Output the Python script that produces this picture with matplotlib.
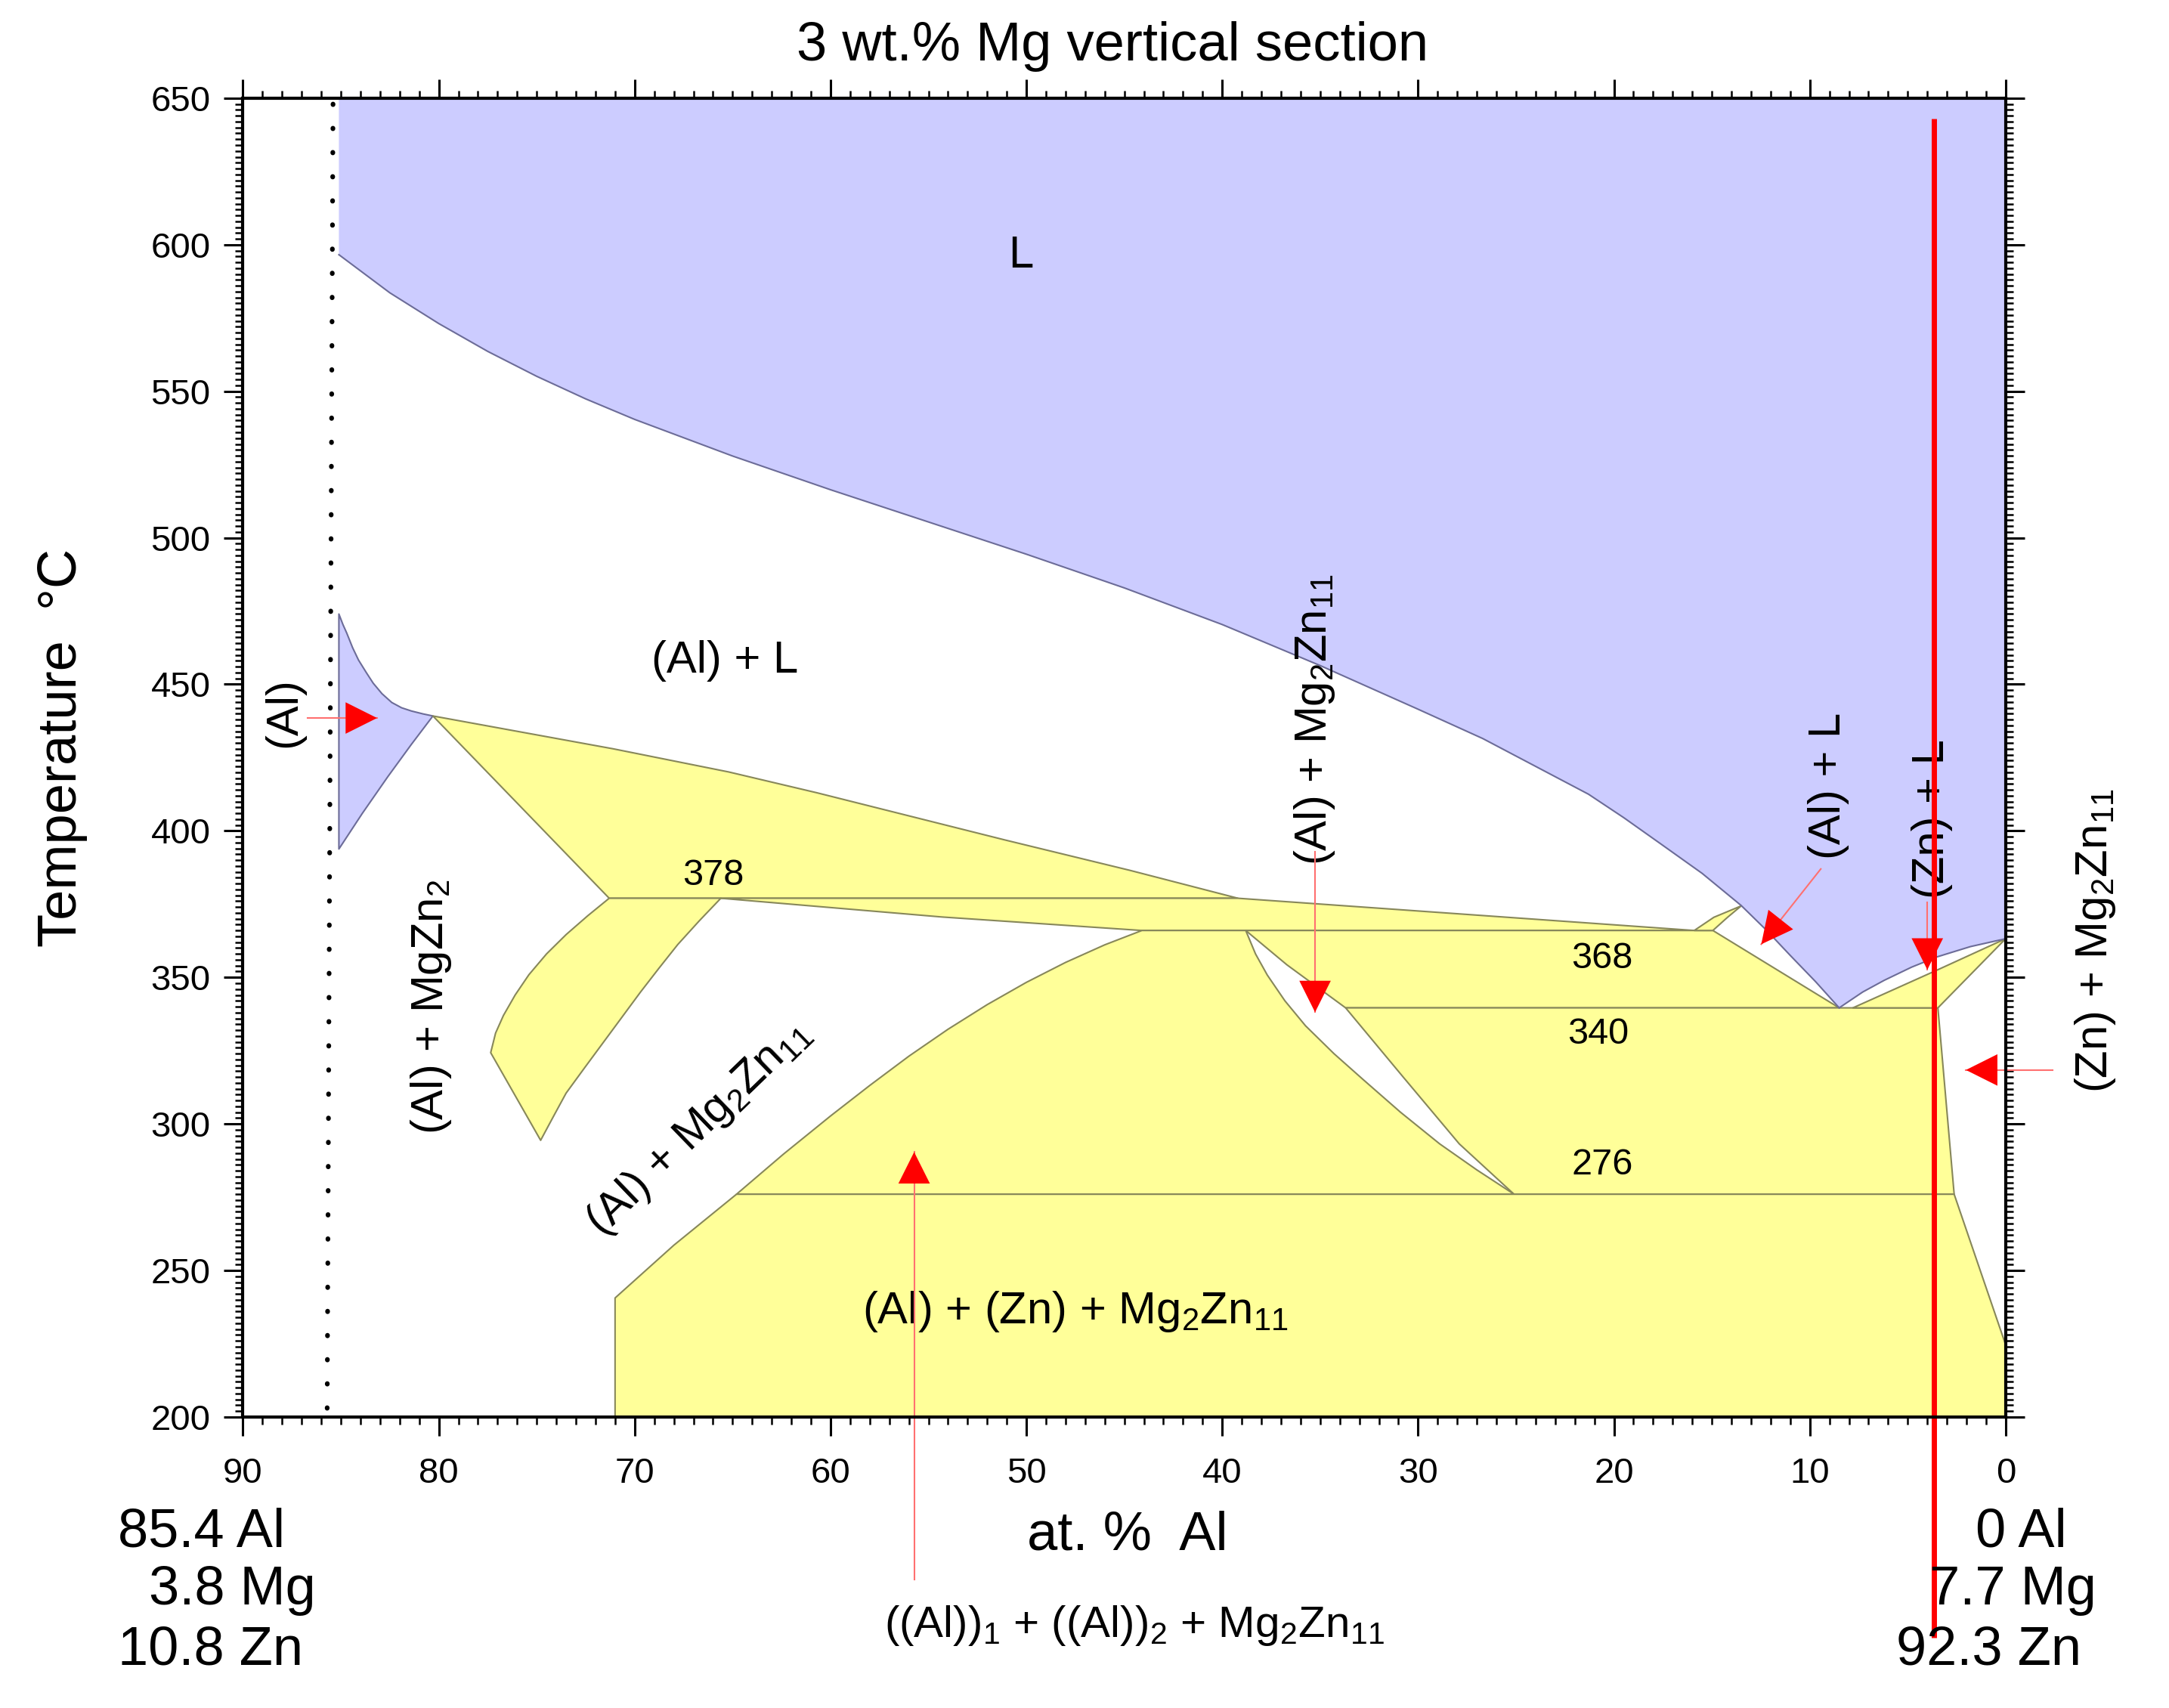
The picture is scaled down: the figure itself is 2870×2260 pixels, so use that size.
# 3 wt.% Mg vertical section of the Al-Mg-Zn system.

import numpy as np
from matplotlib import pyplot as plt
from matplotlib.ticker import MultipleLocator

plt.rcParams["font.family"] = ["Liberation Sans", "DejaVu Sans"]
plt.rcParams["mathtext.fontset"] = "custom"
plt.rcParams["mathtext.rm"] = "Liberation Sans"
plt.rcParams["mathtext.default"] = "regular"
plt.rcParams["lines.scale_dashes"] = False

BLUE = "#ccccff"
YELLOW = "#ffff99"
BLUE_EDGE = "#6c6c98"
YEL_EDGE = "#87875a"

# invariant temperatures as drawn (label text, degC)
iso_labels = ["378", "368", "340", "276"]
t378, t368, t340, t276 = 377.0, 366.0, 339.6, 276.0

# liquidus, Al-rich branch (at.% Al, degC)
liq_al_x = [85.1, 82.5, 80.0, 77.5, 75.0, 72.5, 70.0, 65.0, 60.0, 55.0, 50.0, 45.0, 40.0, 35.0,
            30.0, 26.7, 24.0, 21.3, 19.5, 17.6, 15.5, 13.5, 12.2, 11.0, 9.7, 8.5]
liq_al_t = [596.6, 583.6, 573.1, 563.6, 555.1, 547.4, 540.4, 527.9, 516.4, 505.4, 494.4, 482.9, 470.4, 456.4,
            441.5, 431.5, 422.0, 412.5, 404.5, 395.5, 385.5, 374.5, 366.0, 357.5, 348.5, 339.6]
# liquidus, Zn-rich branch
liq_zn_x = [8.5, 7.3, 6.2, 4.8, 3.5, 1.8, 0.0]
liq_zn_t = [339.6, 345.0, 349.0, 353.5, 357.0, 360.5, 363.2]

# (Al) single phase field
al_up_x = [85.1, 84.9, 84.7, 84.4, 84.1, 83.7, 83.35, 82.9, 82.4, 81.9, 81.4, 80.8, 80.3]
al_up_t = [474.0, 470.5, 467.5, 462.5, 458.3, 454.0, 450.4, 446.8, 443.8, 442.0, 440.9, 439.9, 439.2]
al_lo_x = [85.1, 83.9, 82.6, 81.4, 80.3]
al_lo_t = [393.8, 406.0, 418.5, 429.5, 439.2]

# (Al) + L + MgZn2 field, upper edge
a_up_x = [80.3, 71.1, 65.2, 60.7, 51.1, 44.7, 39.2]
a_up_t = [439.2, 428.0, 420.1, 413.0, 396.9, 386.5, t378]
a_corner_x = 71.3

# thin band between 378 and 368
band_top_x = [39.2, 26.7, 15.9]
band_top_t = [t378, 371.1, t368]
band_lo_x = [65.6, 54.3, 44.1]
band_lo_t = [t378, 370.6, t368]

# band below the 378 line
g_l_x = [71.3, 72.4, 73.5, 74.5, 75.4, 76.1, 76.7, 77.1, 77.35]
g_l_t = [t378, 371.0, 364.6, 358.0, 350.9, 344.0, 337.0, 331.0, 324.3]
g_r_x = [65.6, 66.7, 67.8, 68.75, 69.7, 70.65, 71.6, 72.55, 73.5, 74.15, 74.8]
g_r_t = [t378, 369.3, 361.2, 353.2, 345.0, 336.4, 327.8, 319.2, 310.5, 302.5, 294.4]

# left boundary of the (Al) + (Zn) + Mg2Zn11 field
e_up_x = [44.1, 46.0, 48.0, 50.0, 52.0, 54.0, 56.0, 58.0, 60.0, 62.4, 64.8]
e_up_t = [t368, 361.1, 355.1, 348.3, 340.7, 332.3, 323.1, 313.1, 302.7, 289.7, t276]
e_lo_x = [64.8, 68.0, 71.0]
e_lo_t = [t276, 258.6, 240.6]
e_foot_x = 71.0

# lens
lens_l_x = [38.8, 38.3, 37.7, 36.8, 35.75, 34.3, 32.8, 30.9, 28.9, 27.0, 25.1]
lens_l_t = [t368, 358.0, 350.8, 342.0, 333.5, 324.0, 315.1, 304.0, 293.2, 284.3, t276]
lens_r_x = [38.8, 36.7, 33.7, 30.8, 27.9, 25.1]
lens_r_t = [t368, 354.3, t340, 316.3, 293.2, t276]

# Zn-rich side
end368_x = 14.95
eut_x = 8.5
zn_solvus_x = [3.46, 2.63, 0.0]
zn_solvus_t = [t340, t276, 224.6]
wedge_x = [7.8, 3.5, 0.0, 3.46]
wedge_t = [t340, 352.5, 363.2, t340]
sliver_x = [15.9, 14.9, 13.5, 14.2, 14.95]
sliver_t = [t368, 370.5, 374.4, 370.5, t368]

# dotted composition line and red marker line
dot_x = [85.4, 85.7]
dot_t = [648, 202]
red_x = [3.65, 3.65]
red_t = [643, 124.7]

# arrows: (tail, tip)
arrows = [
    ((86.7, 438.5), (83.15, 438.5)),
    ((35.26, 392.9), (35.26, 338.1)),
    ((9.44, 387.0), (12.48, 361.3)),
    ((4.0, 375.7), (4.0, 352.6)),
    ((-2.41, 318.4), (2.03, 318.4)),
    ((55.73, 144.6), (55.73, 290.4)),
]

# region labels: text, at.% Al, degC, rotation, size
labels = [
    ("L", 50.3, 596.2, 0, 43),
    ("(Al) + L", 65.4, 457.9, 0, 43),
    ("(Al)", 87.9, 440.4, 90, 43),
    ("(Al) + MgZn$_2$", 80.4, 339.9, 90, 43),
    ("(Al) + Mg$_2$Zn$_{11}$", 66.75, 298.8, 44, 43),
    ("(Al) + Mg$_2$Zn$_{11}$", 35.3, 438.0, 90, 43),
    ("(Al) + L", 9.04, 415.4, 90, 43),
    ("(Zn) + L", 3.75, 404.1, 90, 43),
    ("(Zn) + Mg$_2$Zn$_{11}$", -4.58, 362.5, 90, 43),
    ("(Al) + (Zn) + Mg$_2$Zn$_{11}$", 47.5, 236.0, 0, 43),
    ("((Al))$_1$ + ((Al))$_2$ + Mg$_2$Zn$_{11}$", 44.5, 128.9, 0, 42),
]
iso_label_x = [66.0, 20.6, 20.8, 20.6]
iso_label_t = [384.7, 356.4, 330.5, 286.1]

left_comp = ["85.4 Al", "3.8 Mg", "10.8 Zn"]
right_comp = ["0 Al", "7.7 Mg", "92.3 Zn"]


def pts(x, t):
    return np.column_stack([x, t])


def region(ax, xy, color, edge):
    xy = np.asarray(xy, dtype=float)
    ax.fill(xy[:, 0], xy[:, 1], facecolor=color, edgecolor=edge, lw=1.5, joinstyle="round", zorder=2)


fig = plt.figure(figsize=(28.7, 22.6), dpi=100)
ax = fig.add_axes([0.112, 0.1704, 0.8127, 0.7721])

# liquid field
liq = np.vstack([[[85.1, 650.0]], pts(liq_al_x, liq_al_t), pts(liq_zn_x[1:], liq_zn_t[1:]), [[0.0, 650.0]]])
region(ax, liq, BLUE, "none")
ax.plot(liq_al_x, liq_al_t, color=BLUE_EDGE, lw=1.5, zorder=3)
ax.plot(liq_zn_x, liq_zn_t, color=BLUE_EDGE, lw=1.5, zorder=3)

# (Al) field
region(ax, np.vstack([pts(al_up_x, al_up_t), pts(al_lo_x, al_lo_t)[::-1][1:]]), BLUE, BLUE_EDGE)

# yellow three-phase fields
region(ax, np.vstack([pts(a_up_x, a_up_t), [[a_corner_x, t378]]]), YELLOW, YEL_EDGE)
region(ax, np.vstack([pts(band_top_x, band_top_t), pts(band_lo_x, band_lo_t)[::-1]]), YELLOW, YEL_EDGE)
region(ax, np.vstack([pts(g_l_x, g_l_t), pts(g_r_x, g_r_t)[::-1]]), YELLOW, YEL_EDGE)
region(ax, np.vstack([[[lens_r_x[0], t368], [end368_x, t368], [eut_x, t340]],
                      pts(lens_r_x[2::-1], lens_r_t[2::-1])]), YELLOW, YEL_EDGE)
region(ax, np.vstack([[[zn_solvus_x[0], t340], [zn_solvus_x[1], t276]],
                      pts(lens_r_x[5:1:-1], lens_r_t[5:1:-1])]), YELLOW, YEL_EDGE)
region(ax, np.vstack([pts(lens_l_x, lens_l_t), pts(e_up_x, e_up_t)[::-1]]), YELLOW, YEL_EDGE)
region(ax, np.vstack([[[e_foot_x, 200.0]], pts(e_lo_x, e_lo_t)[::-1],
                      pts(zn_solvus_x[1:], zn_solvus_t[1:]), [[0.0, 200.0]]]), YELLOW, YEL_EDGE)
region(ax, pts(sliver_x, sliver_t), YELLOW, YEL_EDGE)
region(ax, pts(wedge_x, wedge_t), YELLOW, YEL_EDGE)

# dotted alloy line (dash pattern in points, not scaled by width)
ax.plot(dot_x, dot_t, color="black", lw=4.5, linestyle=(0, (0.5, 22.5)),
        dash_capstyle="round", zorder=4)

# text
for txt, x, t, rot, size in labels:
    ax.text(x, t, txt, rotation=rot, fontsize=size, ha="center", va="center",
            rotation_mode="anchor", zorder=5)
for txt, x, t in zip(iso_labels, iso_label_x, iso_label_t):
    ax.text(x, t, txt, fontsize=35, ha="center", va="center", zorder=5)

# arrows
for tail, tip in arrows:
    ax.plot([tail[0], tip[0]], [tail[1], tip[1]], color="#ff7070", lw=1.5,
            clip_on=False, zorder=6)
    ax.annotate("", xy=tip, xytext=tail, annotation_clip=False,
                arrowprops=dict(arrowstyle="-|>,head_length=3.0,head_width=1.5",
                                mutation_scale=10, fc="red", ec="red", lw=0,
                                shrinkA=0, shrinkB=0), zorder=7)

ax.plot(red_x, red_t, color="red", lw=5, solid_capstyle="butt", clip_on=False, zorder=8)

# axes
ax.set_xlim(90, 0)
ax.set_ylim(200, 650)
ax.xaxis.set_major_locator(MultipleLocator(10))
ax.xaxis.set_minor_locator(MultipleLocator(1))
ax.yaxis.set_major_locator(MultipleLocator(50))
ax.yaxis.set_minor_locator(MultipleLocator(2))
ax.tick_params(which="both", direction="out", top=True, right=True, labelsize=34)
ax.tick_params(which="major", length=18, width=2.2)
ax.tick_params(which="minor", length=7, width=1.8)
ax.tick_params(axis="x", pad=20)
ax.tick_params(axis="y", pad=13)
for s in ax.spines.values():
    s.set_linewidth(3)
    s.set_zorder(9)

fig.text(0.513, 0.973, "3 wt.% Mg vertical section", fontsize=52, ha="center", va="center")
fig.text(0.0286, 0.562, "Temperature  \u00b0C", fontsize=52, rotation=90, ha="center", va="center")
fig.text(0.5198, 0.101, "at. %  Al", fontsize=52, ha="center", va="center")
for txt, fx, fy in zip(left_comp, [0.093, 0.107, 0.097], [0.1027, 0.0686, 0.0338]):
    fig.text(fx, fy, txt, fontsize=52, ha="center", va="center")
for txt, fx, fy in zip(right_comp, [0.932, 0.928, 0.917], [0.1027, 0.0686, 0.0338]):
    fig.text(fx, fy, txt, fontsize=52, ha="center", va="center")

fig.savefig("out.png", dpi=100)
